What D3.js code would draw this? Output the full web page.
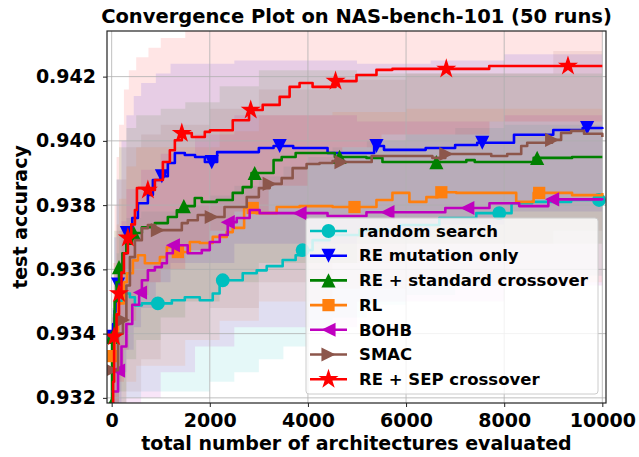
<!DOCTYPE html>
<html>
<head>
<meta charset="utf-8">
<script src="https://cdn.jsdelivr.net/npm/d3@7"></script>
<style>
    body { margin: 0; background: #fff; }
    text { font-family: "DejaVu Sans", sans-serif; font-weight: bold; }
</style>
</head>
<body>
<svg id="chart" width="639" height="457"></svg>
<script>
const randomSearch = [[0,0.9339],[110,0.9350],[210,0.93525],[372,0.93513],[474,0.93488],[616,0.93494],[1227,0.93504],[1491,0.93513],[1796,0.93504],[2060,0.93525],[2200,0.93566],[2468,0.93566],[2671,0.93588],[2956,0.93597],[3160,0.93610],[3485,0.93629],[3750,0.93644],[3880,0.93660],[4095,0.93691],[4441,0.93707],[5051,0.93722],[5864,0.93738],[6678,0.93760],[7431,0.93775],[8150,0.93806],[8570,0.93810],[9364,0.93816],[10000,0.93810]]
const reMutation = [[0,0.9339],[30,0.9343],[60,0.9347],[100,0.9351],[130,0.93553],[180,0.9360],[230,0.9365],[310,0.93713],[420,0.9376],[535,0.93806],[738,0.93832],[840,0.93878],[1000,0.93890],[1145,0.93931],[1288,0.93962],[1491,0.93956],[1700,0.93950],[1900,0.93934],[2150,0.93965],[2671,0.93965],[3000,0.93978],[3300,0.93984],[3700,0.93978],[4400,0.93962],[5350,0.93984],[5550,0.93972],[6400,0.93978],[7000,0.93987],[7450,0.93994],[8200,0.94019],[9000,0.94034],[9600,0.94040],[10000,0.94037]]
const reStandard = [[0,0.9318],[8,0.9339],[60,0.9350],[100,0.9356],[150,0.93607],[220,0.9365],[300,0.9368],[413,0.93713],[616,0.93731],[881,0.93744],[1145,0.93763],[1328,0.93784],[1471,0.93797],[1694,0.93822],[1837,0.93810],[2142,0.93816],[2468,0.93838],[2671,0.93856],[2850,0.93900],[3300,0.93940],[3465,0.93950],[3750,0.93962],[4550,0.93950],[5193,0.93947],[5519,0.93934],[7228,0.93940],[7400,0.93934],[8600,0.93947],[9384,0.93950],[10000,0.93950]]
const rl = [[0,0.9333],[60,0.9340],[130,0.93494],[250,0.93560],[311,0.93588],[433,0.93628],[535,0.93644],[677,0.93619],[983,0.93638],[1125,0.93669],[1300,0.93654],[1593,0.93685],[1796,0.93682],[2060,0.93701],[2345,0.93716],[2468,0.93729],[2700,0.93791],[2950,0.93775],[3363,0.93794],[3830,0.93797],[4502,0.93794],[5397,0.93816],[5722,0.93838],[6068,0.93810],[6414,0.93825],[6650,0.93840],[7024,0.93838],[8245,0.93810],[8600,0.93838],[9384,0.93831],[10000,0.93838]]
const bohb = [[0,0.9322],[130,0.93285],[200,0.9336],[300,0.9343],[420,0.9349],[560,0.93528],[616,0.93566],[738,0.93597],[881,0.93607],[1023,0.93619],[1125,0.93650],[1247,0.93675],[1550,0.93650],[1837,0.93660],[2000,0.93685],[2203,0.93707],[2366,0.93747],[2549,0.93760],[2813,0.93785],[3017,0.93775],[4400,0.93766],[5193,0.93778],[6800,0.93791],[7700,0.93806],[8306,0.93797],[8900,0.93818],[10000,0.93815]]
const smac = [[0,0.93286],[130,0.9340],[230,0.93442],[300,0.9355],[372,0.93638],[474,0.93691],[616,0.93728],[738,0.93738],[881,0.93722],[1227,0.93722],[1430,0.93744],[1552,0.93753],[1755,0.93769],[2040,0.93763],[2300,0.93794],[2753,0.93825],[3000,0.93853],[3221,0.93866],[3465,0.93884],[3688,0.93915],[3973,0.93928],[4237,0.93931],[4502,0.93937],[4685,0.93934],[5300,0.93953],[6536,0.93947],[6800,0.93959],[7736,0.93953],[8062,0.93959],[8347,0.93984],[8469,0.93994],[8977,0.94003],[9160,0.94025],[9364,0.94031],[9628,0.94022],[10000,0.94012]]
const reSep = [[0,0.9300],[20,0.9315],[30,0.9325],[50,0.9339],[100,0.9346],[150,0.93525],[200,0.9359],[250,0.93650],[330,0.93698],[400,0.9374],[474,0.93785],[515,0.93853],[738,0.93847],[881,0.93878],[1044,0.93934],[1186,0.93971],[1288,0.94002],[1430,0.94024],[1633,0.94012],[1898,0.94028],[2004,0.94033],[2468,0.94064],[2800,0.94096],[3078,0.94112],[3424,0.94137],[3627,0.94168],[3830,0.94180],[4095,0.94168],[4563,0.94186],[4990,0.94205],[5397,0.94221],[5722,0.94224],[7695,0.94233],[10000,0.94233]]

//where the markers sit (evaluations)
const randomSearchMarks = [0, 942, 2264, 3891, 7899, 9933]
const reMutationMarks = [0, 130, 310, 1023, 2040, 3424, 5397, 7553, 9690]
const reStandardMarks = [0, 8, 150, 454, 1471, 2915, 4644, 6618, 8672]
const rlMarks = [0, 1349, 2875, 4949, 6719, 8713]
const bohbMarks = [130, 577, 1247, 2366, 3830, 5620, 7248, 8977]
const smacMarks = [0, 230, 942, 2040, 3221, 4685, 6821, 8977]
const reSepMarks = [50, 150, 330, 738, 1430, 2834, 4563, 6820, 9300]

//shaded spread : [evaluations, low, high]
const randomSearchBand = [[0,0.9290,0.9342],[50,0.9305,0.9355],[100,0.9312,0.9365],[150,0.9318,0.9372],[300,0.9320,0.9376],[600,0.9322,0.9378],[1500,0.9322,0.9380],[2000,0.9325,0.9383],[2500,0.9328,0.9386],[3000,0.9332,0.9389],[3500,0.9336,0.9392],[4000,0.9341,0.9395],[4500,0.9345,0.9398],[5200,0.9349,0.9400],[6000,0.9352,0.9402],[7000,0.9355,0.9404],[8000,0.9358,0.9405],[10000,0.9358,0.9405]]
const reMutationBand = [[0,0.9290,0.9348],[50,0.9308,0.9370],[100,0.9318,0.9388],[200,0.9328,0.9400],[300,0.9335,0.9408],[450,0.9342,0.9414],[600,0.9348,0.9418],[900,0.9356,0.9421],[1200,0.9362,0.9424],[2500,0.9368,0.9425],[5000,0.9370,0.9424],[6500,0.9374,0.9425],[8000,0.9378,0.9427],[10000,0.9378,0.9427]]
const reStandardBand = [[0,0.9290,0.9346],[50,0.9310,0.9372],[100,0.9318,0.9388],[150,0.9322,0.9398],[300,0.9332,0.9404],[500,0.9338,0.9408],[1000,0.9345,0.9410],[1500,0.9350,0.9412],[2200,0.9356,0.9417],[3000,0.9362,0.9422],[5000,0.9368,0.9421],[10000,0.9368,0.9421]]
const rlBand = [[0,0.9290,0.9345],[50,0.9305,0.9362],[100,0.9314,0.9374],[150,0.9318,0.9382],[300,0.9325,0.9392],[500,0.9330,0.9398],[1500,0.9338,0.9398],[2200,0.9344,0.9403],[3000,0.9350,0.9408],[4500,0.9354,0.9409],[6000,0.9356,0.9410],[10000,0.9356,0.9410]]
const bohbBand = [[0,0.9290,0.9342],[100,0.9302,0.9362],[200,0.9308,0.9375],[300,0.9312,0.9385],[600,0.9320,0.9391],[1000,0.9328,0.9396],[1700,0.9336,0.9402],[2500,0.9342,0.9408],[5000,0.9350,0.9406],[8000,0.9355,0.9408],[10000,0.9355,0.9408]]
const smacBand = [[0,0.9290,0.9345],[100,0.9308,0.9372],[200,0.9316,0.9388],[300,0.9322,0.9398],[600,0.9332,0.9402],[1000,0.9340,0.9405],[2000,0.9348,0.9410],[3000,0.9356,0.9416],[4500,0.9362,0.9419],[6000,0.9368,0.9421],[9000,0.9372,0.9428],[10000,0.9372,0.9428]]
const reSepBand = [[0,0.9290,0.9340],[30,0.9303,0.9362],[60,0.9312,0.9380],[100,0.9318,0.9395],[150,0.9325,0.9405],[250,0.9335,0.9416],[350,0.9344,0.9422],[500,0.9352,0.9426],[750,0.9356,0.9429],[1000,0.9360,0.9432],[1500,0.9366,0.9436],[2000,0.9372,0.9437],[2500,0.9378,0.9438],[3200,0.9386,0.9439],[4000,0.9393,0.9440],[4700,0.9398,0.9440],[5500,0.9402,0.9440],[7700,0.9406,0.9445],[10000,0.9406,0.9445]]

const labels = ["random search", "RE mutation only", "RE + standard crossover", "RL", "BOHB", "SMAC", "RE + SEP crossover"]
const colors = ["#00bfbf", "#0000ff", "#008000", "#ff7f0e", "#bf00bf", "#8c564b", "#ff0000"]
const shapes = ["circle", "down", "up", "square", "left", "right", "star"]
const xTicks = [0, 2000, 4000, 6000, 8000, 10000]
const yTicks = [0.932, 0.934, 0.936, 0.938, 0.940, 0.942]

const series = [
    { line: randomSearch, marks: randomSearchMarks, band: randomSearchBand },
    { line: reMutation, marks: reMutationMarks, band: reMutationBand },
    { line: reStandard, marks: reStandardMarks, band: reStandardBand },
    { line: rl, marks: rlMarks, band: rlBand },
    { line: bohb, marks: bohbMarks, band: bohbBand },
    { line: smac, marks: smacMarks, band: smacBand },
    { line: reSep, marks: reSepMarks, band: reSepBand }
]

//----------------------------------------------------------------------------
const margin = { top: 31, right: 33, bottom: 54, left: 107 }
const width = 639 - margin.left - margin.right
const height = 457 - margin.top - margin.bottom

const svg = d3.select("#chart")
const g = svg.append("g").attr("transform", `translate(${margin.left},${margin.top})`)

const x = d3.scaleLinear().domain([-95, 10075]).range([0, width])
const y = d3.scaleLinear().domain([0.93184, 0.94342]).range([height, 0])

g.append("clipPath").attr("id", "plot-clip")
    .append("rect").attr("width", width).attr("height", height)

//bands first, then grid, then lines (matplotlib order)
const bandLayer = g.append("g").attr("clip-path", "url(#plot-clip)")
const area = d3.area()
    .curve(d3.curveStepAfter)
    .x(d => x(d[0]))
    .y0(d => y(d[1]))
    .y1(d => y(d[2]))

series.forEach((s, i) => {
    bandLayer.append("path")
        .attr("d", area(s.band))
        .attr("fill", colors[i])
        .attr("opacity", 0.1)
})

//grid
const grid = g.append("g")
grid.selectAll(".gx").data(xTicks).join("line")
    .attr("x1", d => x(d)).attr("x2", d => x(d))
    .attr("y1", 0).attr("y2", height)
    .attr("stroke", "#b0b0b0").attr("stroke-width", 0.8)
grid.selectAll(".gy").data(yTicks).join("line")
    .attr("x1", 0).attr("x2", width)
    .attr("y1", d => y(d)).attr("y2", d => y(d))
    .attr("stroke", "#b0b0b0").attr("stroke-width", 0.8)

//marker shapes
function tri(dir) {
    return {
        draw(ctx, size) {
            const r = Math.sqrt(size) / 2
            if (dir == "down") { ctx.moveTo(0, r); ctx.lineTo(-r, -r); ctx.lineTo(r, -r) }
            if (dir == "up") { ctx.moveTo(0, -r); ctx.lineTo(-r, r); ctx.lineTo(r, r) }
            if (dir == "left") { ctx.moveTo(-r, 0); ctx.lineTo(r, -r); ctx.lineTo(r, r) }
            if (dir == "right") { ctx.moveTo(r, 0); ctx.lineTo(-r, -r); ctx.lineTo(-r, r) }
            ctx.closePath()
        }
    }
}
function symbolPath(shape, k) {
    switch (shape) {
        case "circle": return d3.symbol(d3.symbolCircle, 150 * k)()
        case "square": return d3.symbol(d3.symbolSquare, 150 * k)()
        case "star": return d3.symbol(d3.symbolStar, 125 * k)()
        default: return d3.symbol(tri(shape), 200 * k)()
    }
}

//value of a step line at evaluation v
const bis = d3.bisector(d => d[0]).right
function valueAt(line, v) {
    const i = Math.max(0, bis(line, v) - 1)
    return line[i][1]
}

const lineLayer = g.append("g").attr("clip-path", "url(#plot-clip)")
const lineGen = d3.line()
    .curve(d3.curveStepAfter)
    .x(d => x(d[0]))
    .y(d => y(d[1]))

series.forEach((s, i) => {
    lineLayer.append("path")
        .attr("d", lineGen(s.line))
        .attr("fill", "none")
        .attr("stroke", colors[i])
        .attr("stroke-width", 2.6)
        .attr("stroke-linejoin", "round")

    lineLayer.selectAll(null)
        .data(s.marks)
        .join("path")
        .attr("d", symbolPath(shapes[i], 1))
        .attr("transform", d => `translate(${x(d)},${y(valueAt(s.line, d))})`)
        .attr("fill", colors[i])
})

//frame
g.append("rect")
    .attr("width", width).attr("height", height)
    .attr("fill", "none").attr("stroke", "#222").attr("stroke-width", 1.2)

//axes
g.append("g").attr("transform", `translate(0,${height})`)
    .call(d3.axisBottom(x).tickValues(xTicks).tickFormat(d3.format("d")).tickSize(4).tickPadding(7))
g.append("g")
    .call(d3.axisLeft(y).tickValues(yTicks).tickFormat(d3.format(".3f")).tickSize(4).tickPadding(7))

svg.selectAll(".domain").remove()
svg.selectAll(".tick line").attr("stroke", "#222").attr("stroke-width", 1)
svg.selectAll(".tick text")
    .attr("fill", "#000")
    .style("font-size", "19px")
    .style("font-family", "'DejaVu Sans', sans-serif")
    .style("font-weight", "bold")

//labels
svg.append("text")
    .attr("x", margin.left + width / 2).attr("y", 23)
    .attr("text-anchor", "middle")
    .style("font-size", "19.5px")
    .text("Convergence Plot on NAS-bench-101 (50 runs)")

svg.append("text")
    .attr("x", margin.left + width / 2).attr("y", 450)
    .attr("text-anchor", "middle")
    .style("font-size", "19px")
    .text("total number of architectures evaluated")

svg.append("text")
    .attr("transform", `translate(27,${margin.top + height / 2}) rotate(-90)`)
    .attr("text-anchor", "middle")
    .style("font-size", "19px")
    .text("test accuracy")

//legend
const legend = svg.append("g").attr("transform", "translate(306,218)")
legend.append("rect")
    .attr("width", 292).attr("height", 176)
    .attr("rx", 3)
    .attr("fill", "#fff").attr("fill-opacity", 0.8)
    .attr("stroke", "#cccccc").attr("stroke-width", 1)

labels.forEach((name, i) => {
    const row = legend.append("g").attr("transform", `translate(0,${13 + i * 24.7})`)
    row.append("line")
        .attr("x1", 4).attr("x2", 41)
        .attr("stroke", colors[i]).attr("stroke-width", 2.6)
    row.append("path")
        .attr("d", symbolPath(shapes[i], 1))
        .attr("transform", "translate(22.5,0)")
        .attr("fill", colors[i])
    row.append("text")
        .attr("x", 53).attr("dy", "0.35em")
        .style("font-size", "16.5px")
        .text(name)
})
</script>
</body>
</html>
